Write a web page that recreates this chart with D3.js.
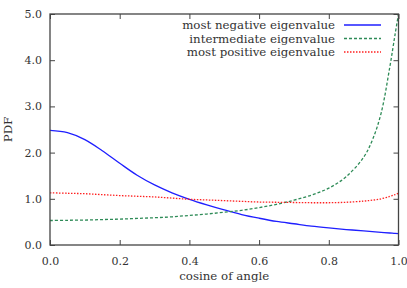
<!DOCTYPE html>
<html>
<head>
<meta charset="utf-8">
<title>PDF of cosine</title>
<script src="https://cdn.jsdelivr.net/npm/d3@7"></script>
<style>
  body { margin: 0; background: #fff; }
</style>
</head>
<body>
<div id="chart"></div>
<script>
// values
var cosines = [0, 0.05, 0.1, 0.15, 0.2, 0.25, 0.3, 0.35, 0.4, 0.45, 0.5, 0.55, 0.6, 0.65, 0.7, 0.75, 0.8, 0.85, 0.9, 0.925, 0.95, 0.975, 0.99, 1.0];
var mostNegative = [2.48, 2.43, 2.28, 2.04, 1.77, 1.51, 1.30, 1.13, 0.99, 0.87, 0.76, 0.66, 0.58, 0.51, 0.46, 0.41, 0.37, 0.335, 0.305, 0.29, 0.275, 0.26, 0.25, 0.245];
var intermediate = [0.53, 0.535, 0.54, 0.55, 0.56, 0.575, 0.59, 0.61, 0.64, 0.67, 0.71, 0.75, 0.81, 0.88, 0.97, 1.08, 1.23, 1.48, 1.90, 2.27, 2.85, 3.85, 4.55, 5.0];
var mostPositive = [1.13, 1.12, 1.11, 1.09, 1.07, 1.055, 1.04, 1.015, 0.99, 0.975, 0.96, 0.945, 0.93, 0.925, 0.92, 0.915, 0.915, 0.925, 0.95, 0.97, 1.0, 1.05, 1.09, 1.12];
var xTicks = [0, 0.2, 0.4, 0.6, 0.8, 1.0];
var yTicks = [0, 1, 2, 3, 4, 5];
var seriesNames = ["most negative eigenvalue", "intermediate eigenvalue", "most positive eigenvalue"];

var width = 407, height = 288;
var margin = {top: 14, right: 8, bottom: 43, left: 50};
var serif = "DejaVu Serif";
var tickSize = 11, labelSize = 11.8;

var svg = d3.select("#chart").append("svg")
  .attr("width", width)
  .attr("height", height);

var x = d3.scaleLinear().domain([0, 1]).range([margin.left, width - margin.right - 0.5]);
var y = d3.scaleLinear().domain([0, 5]).range([height - margin.bottom, margin.top]);

var styles = [
  {color: "#1f1fff", dash: null},
  {color: "#2e8b57", dash: "3,2"},
  {color: "#ff2020", dash: "1.5,1.5"}
];
var series = [mostNegative, intermediate, mostPositive];

svg.append("clipPath").attr("id", "clip")
  .append("rect")
  .attr("x", x(0)).attr("y", y(5) - 1)
  .attr("width", x(1) - x(0)).attr("height", y(0) - y(5) + 1);

var line = d3.line()
  .x(function (d, i) { return x(cosines[i]); })
  .y(function (d) { return y(d); })
  .curve(d3.curveCatmullRom.alpha(0.5));

svg.append("g").attr("clip-path", "url(#clip)")
  .selectAll("path")
  .data(series)
  .enter()
  .append("path")
  .attr("fill", "none")
  .attr("stroke", function (d, i) { return styles[i].color; })
  .attr("stroke-width", 1.3)
  .attr("stroke-dasharray", function (d, i) { return styles[i].dash; })
  .attr("d", line);

// axes with inside ticks, mirrored on the other side
var tickFmt = d3.format(".1f");
var axBottom = svg.append("g")
  .attr("transform", "translate(0," + y(0) + ")")
  .call(d3.axisBottom(x).tickValues(xTicks).tickFormat(tickFmt).tickSizeInner(-5).tickSizeOuter(0).tickPadding(12));
var axLeft = svg.append("g")
  .attr("transform", "translate(" + x(0) + ",0)")
  .call(d3.axisLeft(y).tickValues(yTicks).tickFormat(tickFmt).tickSizeInner(-5).tickSizeOuter(0).tickPadding(8));
var axTop = svg.append("g")
  .attr("transform", "translate(0," + y(5) + ")")
  .call(d3.axisTop(x).tickValues(xTicks).tickFormat("").tickSizeInner(-5).tickSizeOuter(0));
var axRight = svg.append("g")
  .attr("transform", "translate(" + x(1) + ",0)")
  .call(d3.axisRight(y).tickValues(yTicks).tickFormat("").tickSizeInner(-5).tickSizeOuter(0));

[axBottom, axLeft, axTop, axRight].forEach(function (g) {
  g.select(".domain").remove();
  g.attr("font-family", serif).attr("font-size", tickSize);
  g.selectAll(".tick line").attr("stroke", "#444");
  g.selectAll("text").attr("fill", "#333");
});

svg.append("rect")
  .attr("x", x(0)).attr("y", y(5))
  .attr("width", x(1) - x(0)).attr("height", y(0) - y(5))
  .attr("fill", "none")
  .attr("stroke", "#444")
  .attr("stroke-width", 1.3);

// legend
var legend = svg.append("g");
seriesNames.forEach(function (name, i) {
  var ly = 25 + i * 13.5;
  legend.append("text")
    .attr("x", 335).attr("y", ly + 4)
    .attr("text-anchor", "end")
    .attr("font-family", serif)
    .attr("font-size", labelSize)
    .attr("fill", "#333")
    .text(name);
  legend.append("line")
    .attr("x1", 344).attr("x2", 381)
    .attr("y1", ly).attr("y2", ly)
    .attr("stroke", styles[i].color)
    .attr("stroke-width", 1.3)
    .attr("stroke-dasharray", styles[i].dash);
});

svg.append("text")
  .attr("x", (x(0) + x(1)) / 2).attr("y", 280)
  .attr("text-anchor", "middle")
  .attr("font-family", serif)
  .attr("font-size", labelSize)
  .attr("fill", "#333")
  .text("cosine of angle");

svg.append("text")
  .attr("transform", "translate(12," + y(2.5) + ") rotate(-90)")
  .attr("text-anchor", "middle")
  .attr("font-family", serif)
  .attr("font-size", labelSize)
  .attr("fill", "#333")
  .text("PDF");
</script>
</body>
</html>
